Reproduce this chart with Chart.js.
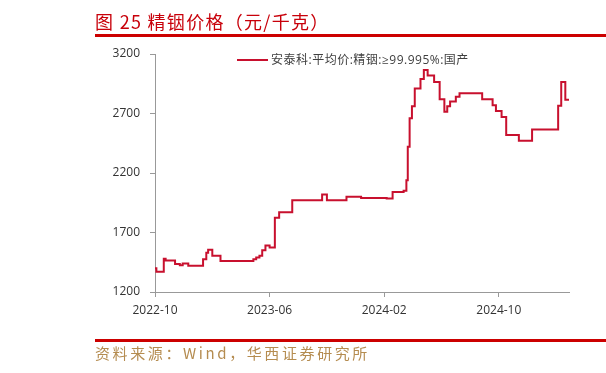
<!DOCTYPE html>
<html>
<head>
<meta charset="utf-8">
<script src="https://cdn.jsdelivr.net/npm/chart.js@4/dist/chart.umd.min.js"></script>
<style>
  body { margin: 0; background: #fff; }
  #wrap { position: relative; width: 606px; height: 373px; overflow: hidden; }
  #chart { position: absolute; left: 0; top: 0; }
  .title { position: absolute; left: 95px; top: 8px; font: 18px "Noto Sans CJK SC", sans-serif; color: #c8000a; letter-spacing: 1.3px; white-space: nowrap; }
  .rule { position: absolute; left: 95px; right: 0; height: 3px; background: #cc0000; }
  .legend { position: absolute; left: 237px; top: 50px; font: 12px "Open Sans", "Noto Sans CJK SC", sans-serif; color: #404040; letter-spacing: 0.5px; white-space: nowrap; }
  .legend span { display: inline-block; width: 31px; height: 2px; background: #c8102e; vertical-align: middle; margin-right: 3px; position: relative; top: -1px; }
  .source { position: absolute; left: 95px; top: 342px; font: 15px "Noto Sans CJK SC", sans-serif; color: #b58c50; letter-spacing: 2.6px; white-space: nowrap; }
</style>
</head>
<body>
<div id="wrap">
  <canvas id="chart" width="606" height="373"></canvas>
  <div class="title">图 25 精铟价格（元/千克）</div>
  <div class="rule" style="top:34px"></div>
  <div class="legend"><span></span>安泰科:平均价:精铟:≥99.995%:国产</div>
  <div class="rule" style="top:339px"></div>
  <div class="source">资料来源：Wind，华西证券研究所</div>
</div>
<script>
// --- DATA (change points of the stepped price series) ---
const dates = [
  '2022-10-01', '2022-10-04', '2022-10-20', '2022-10-24', '2022-11-13', '2022-11-23',
  '2022-11-29', '2022-12-11', '2023-01-12', '2023-01-19', '2023-01-23', '2023-02-01',
  '2023-02-17', '2023-04-27', '2023-05-03', '2023-05-10', '2023-05-16', '2023-05-23',
  '2023-06-01', '2023-06-12', '2023-06-21', '2023-07-19', '2023-09-21', '2023-10-01',
  '2023-11-12', '2023-12-13', '2024-02-06', '2024-02-18', '2024-03-12', '2024-03-18',
  '2024-03-21', '2024-03-25', '2024-03-30', '2024-04-05', '2024-04-17', '2024-04-24',
  '2024-05-02', '2024-05-16', '2024-05-28', '2024-06-07', '2024-06-13', '2024-06-19',
  '2024-07-01', '2024-07-09', '2024-08-27', '2024-09-18', '2024-09-25', '2024-10-07',
  '2024-10-17', '2024-11-13', '2024-12-11', '2025-02-05', '2025-02-11', '2025-02-19',
  '2025-02-27'
];
const prices = [
  1400, 1370, 1480, 1465, 1435, 1425,
  1440, 1420, 1475, 1530, 1555, 1505,
  1460, 1475, 1490, 1505, 1550, 1590,
  1575, 1825, 1870, 1970, 2020, 1970,
  2000, 1990, 1985, 2040, 2050, 2140,
  2420, 2660, 2760, 2910, 2990, 3065,
  3020, 2965, 2820, 2715, 2760, 2800,
  2840, 2870, 2820, 2770, 2720, 2670,
  2520, 2470, 2565, 2765, 2965, 2815,
  2815
];
const xTicks = [0, 8, 16, 24];          // months after 2022-10
const yTicks = [1200, 1700, 2200, 2700, 3200];

// months since 2022-10-01 as a float
function monthsFrom(d) {
  const [y, m, day] = d.split('-').map(Number);
  const dim = new Date(y, m, 0).getDate();
  return (y - 2022) * 12 + (m - 10) + (day - 1) / dim;
}
function monthLabel(v) {
  const t = 2022 * 12 + 9 + v;
  const y = Math.floor(t / 12), m = t % 12 + 1;
  return y + '-' + String(m).padStart(2, '0');
}

const points = dates.map((d, i) => ({ x: monthsFrom(d), y: prices[i] }));
const tickFont = { family: "'Open Sans', 'Noto Sans CJK SC', sans-serif", size: 12 };

new Chart(document.getElementById('chart'), {
  type: 'line',
  data: {
    datasets: [{
      label: '安泰科:平均价:精铟:≥99.995%:国产',
      data: points,
      borderColor: '#c8102e',
      borderWidth: 2,
      pointRadius: 0,
      stepped: true,
      fill: false
    }]
  },
  options: {
    responsive: false,
    animation: false,
    layout: { padding: { top: 54, right: 37, left: 0, bottom: 0 } },
    plugins: { legend: { display: false }, tooltip: { enabled: false } },
    scales: {
      x: {
        type: 'linear',
        min: 0,
        max: 28.9,
        afterBuildTicks: s => { s.ticks = xTicks.map(v => ({ value: v })); },
        afterFit: s => { s.height = 81; },
        grid: { drawOnChartArea: false, drawTicks: true, tickLength: 5, color: '#999' },
        border: { color: '#999', width: 1 },
        ticks: { color: '#333', font: tickFont, padding: 6, maxRotation: 0, callback: v => monthLabel(v) }
      },
      y: {
        min: 1200,
        max: 3200,
        afterBuildTicks: s => { s.ticks = yTicks.map(v => ({ value: v })); },
        afterFit: s => { s.width = 155; },
        grid: { drawOnChartArea: false, drawTicks: true, tickLength: 5, color: '#999' },
        border: { color: '#999', width: 1 },
        ticks: { color: '#333', font: tickFont, padding: 10, callback: v => String(v) }
      }
    }
  }
});
</script>
</body>
</html>
